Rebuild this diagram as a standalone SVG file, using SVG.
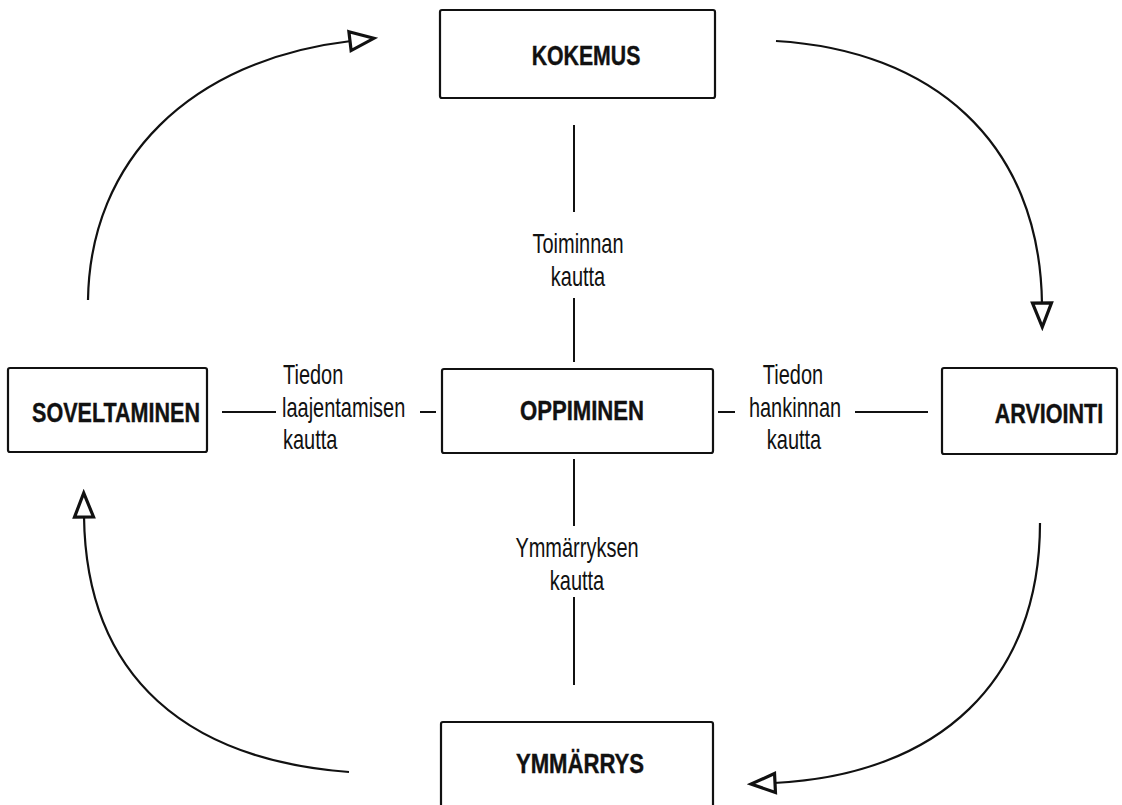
<svg xmlns="http://www.w3.org/2000/svg" width="1122" height="805" viewBox="0 0 1122 805">
  <style>
    .box { fill: #fff; stroke: #111; stroke-width: 2.2; }
    .title { font-family: "Liberation Sans", Arial, sans-serif; font-weight: bold; font-size: 28px; fill: #111; stroke: #111; stroke-width: 0.4; text-anchor: middle; }
    .label { font-family: "Liberation Sans", Arial, sans-serif; font-size: 27px; fill: #111; }
    .mid { text-anchor: middle; }
    .link { stroke: #111; stroke-width: 2; fill: none; }
    .cycle { stroke: #111; stroke-width: 2.2; fill: none; marker-end: url(#hollow); }
  </style>
  <defs>
    <marker id="hollow" markerUnits="userSpaceOnUse" viewBox="-3 -3 31 25" markerWidth="31" markerHeight="25" refX="1" refY="9.5" orient="auto">
      <path d="M0,0 L24,9.5 L0,19 Z" fill="#fff" stroke="#111" stroke-width="3.2" stroke-linejoin="miter"/>
    </marker>
  </defs>
  <rect width="1122" height="805" fill="#fff"/>

  <!-- connectors -->
  <g id="connectors">
    <!-- cycle arrows -->
    <path class="cycle" d="M88,300 C90,160 190,60 351,41"/>
    <path class="cycle" d="M776,41 C930,50 1040,140 1042,304"/>
    <path class="cycle" d="M1040,523 C1040,680 940,775 774,783"/>
    <path class="cycle" d="M349,772 C190,760 86,680 84,516"/>
    <!-- spokes to the centre -->
    <line class="link" x1="574" y1="125" x2="574" y2="212"/>
    <line class="link" x1="574" y1="298" x2="574" y2="362"/>
    <line class="link" x1="574" y1="459" x2="574" y2="526"/>
    <line class="link" x1="574" y1="597" x2="574" y2="685"/>
    <line class="link" x1="222" y1="412" x2="276" y2="412"/>
    <line class="link" x1="420" y1="412" x2="436" y2="412"/>
    <line class="link" x1="718" y1="412" x2="735" y2="412"/>
    <line class="link" x1="855" y1="412" x2="928" y2="412"/>
    <!-- spoke labels (condensed by horizontal scaling) -->
    <text class="label mid" transform="translate(578,253) scale(0.74,1)">Toiminnan</text>
    <text class="label mid" transform="translate(578,286) scale(0.74,1)">kautta</text>
    <text class="label mid" transform="translate(577,557) scale(0.74,1)">Ymmärryksen</text>
    <text class="label mid" transform="translate(577,590) scale(0.74,1)">kautta</text>
    <text class="label" transform="translate(283,384) scale(0.74,1)">Tiedon</text>
    <text class="label" transform="translate(282,417) scale(0.74,1)">laajentamisen</text>
    <text class="label" transform="translate(283,449) scale(0.74,1)">kautta</text>
    <text class="label mid" transform="translate(793,384) scale(0.74,1)">Tiedon</text>
    <text class="label mid" transform="translate(795,417) scale(0.74,1)">hankinnan</text>
    <text class="label mid" transform="translate(794,449) scale(0.74,1)">kautta</text>
  </g>

  <g id="kokemus">
    <rect class="box" x="440" y="10" width="275" height="88" rx="2"/>
    <text class="title" transform="translate(586,65) scale(0.76,1)">KOKEMUS</text>
  </g>
  <g id="soveltaminen">
    <rect class="box" x="8" y="368" width="199" height="84" rx="2"/>
    <text class="title" transform="translate(116,422) scale(0.77,1)">SOVELTAMINEN</text>
  </g>
  <g id="oppiminen">
    <rect class="box" x="442" y="369" width="271" height="84" rx="2"/>
    <text class="title" transform="translate(582,420) scale(0.79,1)">OPPIMINEN</text>
  </g>
  <g id="arviointi">
    <rect class="box" x="942" y="368" width="175" height="86" rx="2"/>
    <text class="title" transform="translate(1049,423) scale(0.77,1)">ARVIOINTI</text>
  </g>
  <g id="ymmarrys">
    <rect class="box" x="441" y="722" width="272" height="86" rx="2"/>
    <text class="title" transform="translate(580,773) scale(0.79,1)">YMMÄRRYS</text>
  </g>
</svg>
